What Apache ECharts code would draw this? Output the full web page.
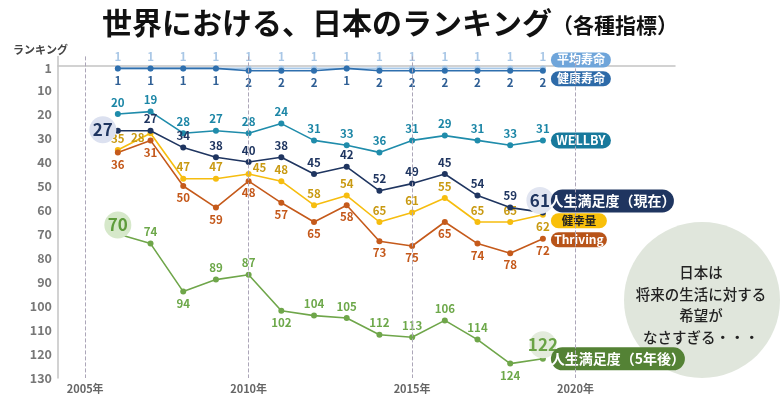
<!DOCTYPE html>
<html>
<head>
<meta charset="utf-8">
<script src="https://cdn.jsdelivr.net/npm/echarts@6/dist/echarts.min.js"></script>
<style>html,body{margin:0;padding:0;background:#fff;}#c{width:780px;height:394px;}</style>
</head>
<body>
<div id="c"></div>
<script>
const years = [2006,2007,2008,2009,2010,2011,2012,2013,2014,2015,2016,2017,2018,2019];
const xTickYears = [2005,2010,2015,2020];
const yTickRanks = [1,10,20,30,40,50,60,70,80,90,100,110,120,130];

const heikinJumyo = [1,1,1,1,1,1,1,1,1,1,1,1,1,1];
const kenkoJumyo  = [1,1,1,1,2,2,2,1,2,2,2,2,2,2];
const wellby      = [20,19,28,27,28,24,31,33,36,31,29,31,33,31];
const manzokuNow  = [27,27,34,38,40,38,45,42,52,49,45,54,59,61];
const kenkoryo    = [35,28,47,47,45,48,58,54,65,61,55,65,65,62];
const thriving    = [36,31,50,59,48,57,65,58,73,75,65,74,78,72];
const manzoku5y   = [70,74,94,89,87,102,104,105,112,113,106,114,124,122];

const names = ['平均寿命','健康寿命','WELLBY','人生満足度（現在）','健幸量','Thriving','人生満足度（5年後）'];

const FONT = '"Noto Sans CJK JP", "Noto Sans", sans-serif';

function bigLabel(color, bg, offset) {
  return {
    show: true, position: 'inside', offset: offset,
    formatter: '{b|{@[1]}}',
    rich: { b: { width: 27, height: 27, lineHeight: 27, align: 'center', borderRadius: 14,
      backgroundColor: bg, color: color, fontSize: 17, fontWeight: 'bold', fontFamily: FONT } }
  };
}

function makeSeries(idx, vals, cfg) {
  const data = years.map((y, i) => {
    const item = { value: [y, vals[i]] };
    if (cfg.overrides && cfg.overrides[i]) item.label = cfg.overrides[i];
    return item;
  });
  return {
    name: names[idx], type: 'line', data: data, z: cfg.z || 2,
    symbol: 'circle', symbolSize: 6,
    lineStyle: { color: cfg.color, width: 1.6 },
    itemStyle: { color: cfg.color },
    label: { show: true, position: cfg.pos, distance: 3, color: cfg.labelColor,
      fontSize: 11.5, fontWeight: 'bold', fontFamily: FONT },
    endLabel: {
      show: true, distance: 8, offset: [0, cfg.pill.dy],
      formatter: '{t|' + names[idx] + '}',
      rich: { t: { width: cfg.pill.w, height: cfg.pill.h, lineHeight: cfg.pill.h, align: 'center',
        backgroundColor: cfg.pill.bg, borderRadius: cfg.pill.h / 2, color: cfg.pill.fg,
        fontSize: cfg.pill.fs, fontWeight: 'bold', fontFamily: FONT } }
    },
    animation: false
  };
}

const series = [
  makeSeries(0, heikinJumyo, { color: '#a7c8e8', labelColor: '#a9c7e6', pos: 'top', z: 1,
    pill: { w: 60, h: 15, dy: -8.5, bg: '#6fa5da', fg: '#fff', fs: 12 } }),
  makeSeries(1, kenkoJumyo, { color: '#2e6fae', labelColor: '#2f5f95', pos: 'bottom', z: 3,
    pill: { w: 60, h: 15, dy: 8, bg: '#2d6aa8', fg: '#fff', fs: 12 } }),
  makeSeries(2, wellby, { color: '#1f8cab', labelColor: '#1c86a6', pos: 'top',
    pill: { w: 60, h: 16, dy: 0, bg: '#17799c', fg: '#fff', fs: 12.5 } }),
  makeSeries(3, manzokuNow, { color: '#1f3560', labelColor: '#1f3560', pos: 'top', z: 4,
    overrides: { 0: bigLabel('#1f3560', '#dce1f0', [-15, -1]), 13: bigLabel('#1f3560', '#e1e5f1', [-3, -12]) },
    pill: { w: 123, h: 23, dy: -11.5, bg: '#1f3560', fg: '#fff', fs: 14 } }),
  makeSeries(4, kenkoryo, { color: '#f6bd0f', labelColor: '#c99a12', pos: 'top',
    overrides: { 1: { position: 'left', offset: [0, 4] }, 4: { position: 'right', offset: [-2, -6] }, 13: { position: 'bottom' } },
    pill: { w: 56, h: 15, dy: 6, bg: '#f9c00a', fg: '#222', fs: 11.5 } }),
  makeSeries(5, thriving, { color: '#c55a1b', labelColor: '#c4581a', pos: 'bottom',
    pill: { w: 56, h: 15, dy: 1, bg: '#b85419', fg: '#fff', fs: 12 } }),
  makeSeries(6, manzoku5y, { color: '#6fa64a', labelColor: '#6da84a', pos: 'top',
    overrides: { 0: bigLabel('#5e9c3b', '#d6e8ca', [0, -9]), 2: { position: 'bottom' }, 5: { position: 'bottom' },
      12: { position: 'bottom' }, 13: bigLabel('#6aa346', '#e3ebdc', [0, -14]) },
    pill: { w: 134, h: 23, dy: 0, bg: '#548235', fg: '#fff', fs: 14 } })
];

series[0].markLine = {
  silent: true, symbol: ['none', 'none'], label: { show: false },
  lineStyle: { type: 'dashed', color: '#aca6b8', width: 1 },
  data: xTickYears.map(v => ({ xAxis: v }))
};

const option = {
  backgroundColor: '#fff',
  animation: false,
  title: [{
    left: 'center', top: 3,
    text: '{a|世界における、日本のランキング}{b|（各種指標）}',
    textStyle: { rich: {
      a: { fontSize: 30, fontWeight: 'bold', color: '#111', fontFamily: FONT },
      b: { fontSize: 21, fontWeight: 'bold', color: '#111', fontFamily: FONT, padding: [4, 0, 0, 0] }
    } }
  }, {
    left: 8, top: 39, text: 'ランキング',
    textStyle: { fontSize: 11, fontWeight: 'bold', color: '#444', fontFamily: FONT }
  }],
  grid: { left: 58, right: 105, top: 56.4, bottom: 16 },
  xAxis: {
    type: 'value', min: 2004.17, max: 2023.04,
    axisLine: { lineStyle: { color: '#c3c3c3', width: 1.5 } },
    axisTick: { show: false },
    splitLine: { show: false },
    axisLabel: { customValues: xTickYears, formatter: v => v + '年', color: '#666', fontSize: 11,
      fontWeight: 'bold', fontFamily: FONT, margin: 5 }
  },
  yAxis: {
    type: 'value', inverse: true, min: -4, max: 130,
    axisLine: { show: true, lineStyle: { color: '#c3c3c3', width: 1.5 } },
    axisTick: { show: false },
    splitLine: { show: false },
    axisLabel: { customValues: yTickRanks, color: '#777', fontSize: 12.5, fontWeight: 'bold',
      fontFamily: FONT, margin: 6 }
  },
  graphic: [
    { type: 'circle', z: -10, shape: { cx: 702, cy: 300, r: 78 }, style: { fill: '#e0e6dc' } },
    { type: 'text', z: -9, x: 701, y: 305, style: {
      text: '日本は\n将来の生活に対する\n希望が\nなさすぎる・・・',
      fill: '#222', font: '500 14.5px ' + FONT, align: 'center', verticalAlign: 'middle',
      textAlign: 'center', textVerticalAlign: 'middle', lineHeight: 21.5 } }
  ],
  series: series
};

const chart = echarts.init(document.getElementById('c'), null, { renderer: 'canvas' });
chart.setOption(option);
</script>
</body>
</html>
